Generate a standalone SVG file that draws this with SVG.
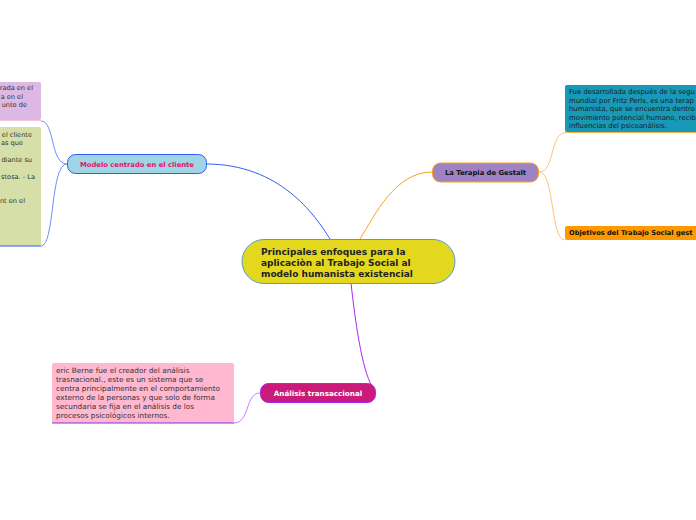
<svg xmlns="http://www.w3.org/2000/svg" width="696" height="520" viewBox="0 0 696 520">
<style>
text{font-family:"DejaVu Sans","Verdana",sans-serif;}
.b{font-weight:bold;}
.t{font-size:7.3px;fill:#333;}
.s{font-size:6.6px;fill:#333;}
.c{fill:none;stroke-width:1;}
</style>
<rect width="696" height="520" fill="#ffffff"/>
<g id="connectors">
<path class="c" d="M330,239 C315,215 280,164 206,164" stroke="#2f5ef5" stroke-width="1.3"/>
<path class="c" d="M360,239 C375,215 395,172 432,172" stroke="#ff9f1c" stroke-width="1.3"/>
<path class="c" d="M351,283 C355,320 362,370 372,386" stroke="#a726f5" stroke-width="1.3"/>
<path class="c" d="M67,164 C50,164 55,121 41,121" stroke="#6f8ff7"/>
<path class="c" d="M67,164 C50,164 55,246 41,246" stroke="#6f8ff7"/>
<path class="c" d="M539,172 C555,172 550,133 565,133" stroke="#ffc37a"/>
<path class="c" d="M539,172 C555,172 550,240 565,240" stroke="#ffc37a"/>
<path class="c" d="M260,393 C245,393 250,423 234,423" stroke="#c77cf7"/>
</g>
<g id="central">
<rect x="242" y="239.5" width="213" height="44" rx="22" fill="#e3d81e" stroke="#5a9bc9" stroke-width="1"/>
<text class="b" font-size="9" fill="#222"><tspan x="261" y="255">Principales enfoques para la</tspan><tspan x="261" y="266">aplicaciòn al Trabajo Social al</tspan><tspan x="261" y="277">modelo humanista existencial</tspan></text>
</g>
<g id="modelo">
<rect x="67.5" y="154.5" width="139" height="19" rx="8" fill="#9fd4e4" stroke="#2f5ef5" stroke-width="1"/>
<text class="b" x="137" y="167" font-size="6.8" fill="#e0146c" text-anchor="middle">Modelo centrado en el cliente</text>
</g>
<g id="modelo-purple">
<rect x="-5" y="82" width="46" height="38" rx="2" fill="#dcb8e2"/>
<line x1="-5" y1="120.5" x2="41" y2="120.5" stroke="#f7c6d6" stroke-width="1"/>
<text class="s" text-anchor="end"><tspan x="33" y="90">rada en el</tspan><tspan x="23" y="99">a en el</tspan><tspan x="27" y="107">unto de</tspan></text>
</g>
<g id="modelo-green">
<rect x="-5" y="127" width="46" height="119" rx="2" fill="#d5dfa7"/>
<line x1="-5" y1="246" x2="41" y2="246" stroke="#2f5ef5" stroke-width="1.2"/>
<text class="s" text-anchor="end"><tspan x="32" y="137">el cliente</tspan><tspan x="23" y="145">as que</tspan><tspan x="32" y="162">diante su</tspan><tspan x="35" y="179">stosa. - La</tspan><tspan x="25" y="203">nt en el</tspan></text>
</g>
<g id="gestalt">
<rect x="432.5" y="163" width="106" height="19" rx="8" fill="#9f82c2" stroke="#ff9f1c" stroke-width="1"/>
<text class="b" x="485.5" y="175" font-size="6.8" fill="#111" text-anchor="middle">La Terapia de Gestalt</text>
</g>
<g id="gestalt-blue">
<rect x="565" y="85" width="140" height="47" rx="2" fill="#1899b8"/>
<line x1="565" y1="132.5" x2="700" y2="132.5" stroke="#ffb347" stroke-width="1"/>
<text class="t" style="fill:#1a1a1a;font-size:6.9px"><tspan x="569" y="94">Fue desarrollada después de la segu</tspan><tspan x="569" y="102.5">mundial por Fritz Perls, es una terap</tspan><tspan x="569" y="111">humanista, que se encuentra dentro</tspan><tspan x="569" y="119.5">movimiento potencial humano, recib</tspan><tspan x="569" y="128">influencias del psicoanálisis.</tspan></text>
</g>
<g id="gestalt-orange">
<rect x="565" y="226" width="140" height="14" rx="2" fill="#ff9900"/>
<text class="b" x="569" y="235" font-size="6.7" fill="#111">Objetivos del Trabajo Social gest</text>
</g>
<g id="analisis">
<rect x="260.5" y="383.5" width="115" height="19" rx="8" fill="#cc1a7a" stroke="#a726f5" stroke-width="1"/>
<text class="b" x="318" y="396" font-size="7.2" fill="#ffffff" text-anchor="middle">Análisis transaccional</text>
</g>
<g id="analisis-pink">
<rect x="52" y="363" width="182" height="60" rx="2" fill="#ffb8d0"/>
<line x1="52" y1="423" x2="234" y2="423" stroke="#8a2be2" stroke-width="1.2"/>
<text class="t"><tspan x="56" y="373">eric Berne fue el creador del análisis</tspan><tspan x="56" y="382">trasnacional., este es un sistema que se</tspan><tspan x="56" y="391">centra principalmente en el comportamiento</tspan><tspan x="56" y="400">externo de la personas y que solo de forma</tspan><tspan x="56" y="409">secundaria se fija en el análisis de los</tspan><tspan x="56" y="418">procesos psicológicos internos.</tspan></text>
</g>
</svg>
